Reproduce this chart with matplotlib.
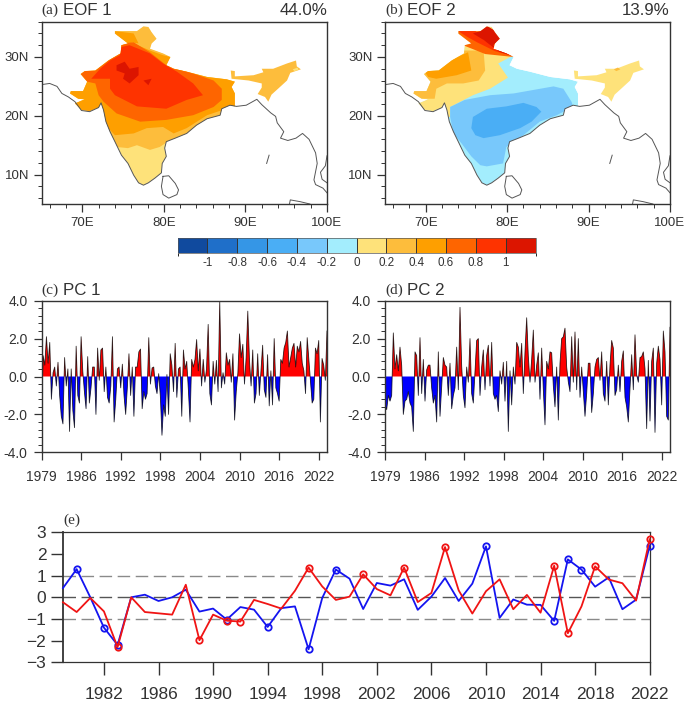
import numpy as np
import matplotlib
matplotlib.use("Agg")
import matplotlib.pyplot as plt
from matplotlib.colors import ListedColormap, BoundaryNorm
from matplotlib.colorbar import ColorbarBase
from matplotlib.patches import Polygon
from matplotlib.ticker import MultipleLocator

plt.rcParams["font.family"] = ["Liberation Sans", "DejaVu Sans"]

W, H = 685, 703

# colour levels, blue to red
level_colors = ["#104a9e", "#1f6fc9", "#3596e6", "#4aaef5", "#78c8fb", "#a3edfd",
                "#fee27a", "#fdbd3c", "#fe9f00", "#fe6500", "#fe3300", "#dc1500"]
level_ticks = [-1, -0.8, -0.6, -0.4, -0.2, 0, 0.2, 0.4, 0.6, 0.8, 1]

# outlines, (lon, lat)
india = [(74.0,34.4),(75.2,34.4),(76.7,34.4),(77.5,35.2),(78.1,35.1),(78.5,34.2),(79.1,33.1),(78.5,32.3),
         (78.3,31.4),(79.9,30.6),(80.8,30.0),(80.3,28.6),(81.2,28.0),(82.8,27.5),(85.3,26.6),(87.7,26.2),
         (88.7,25.8),(88.3,24.9),(88.7,23.8),(88.7,21.6),(88.1,21.8),(87.1,21.2),(86.9,20.1),(85.3,19.5),
         (84.0,18.4),(82.8,17.0),(81.4,16.2),(80.3,15.6),(80.1,14.5),(80.3,13.1),(79.8,11.9),(79.7,10.3),
         (78.9,9.4),(78.1,8.6),(77.5,8.2),(76.9,8.6),(76.3,9.9),(75.6,11.9),(74.8,13.3),(74.0,15.6),
         (73.4,17.3),(72.9,19.0),(72.6,21.0),(72.3,22.2),(72.0,21.4),(70.9,20.8),(69.9,21.0),(69.1,22.1),
         (70.3,22.8),(69.5,22.9),(68.5,23.8),(68.6,24.2),(70.1,24.2),(70.6,25.8),(69.8,27.1),(70.3,27.6),
         (71.6,27.7),(73.2,29.4),(74.7,30.6),(74.8,32.0),(75.6,32.3),(74.0,34.0)]
northeast = [(88.2,27.7),(88.7,27.6),(88.7,26.7),(91.0,26.9),(92.2,27.4),(92.0,28.0),(93.4,28.0),(95.1,28.9),
             (96.2,29.4),(96.3,28.4),(96.8,27.9),(95.5,27.3),(95.1,26.0),(94.0,24.6),(93.2,23.6),(92.8,22.4),
             (92.4,23.2),(91.5,23.7),(92.0,24.8),(92.0,25.5),(90.4,26.0),(88.3,26.3)]
coast_main = [(65.0,25.3),(66.0,25.5),(66.9,25.0),(67.5,23.8),(68.3,23.2),(69.1,22.4),(69.9,20.9),(70.9,20.7),
              (72.0,21.4),(72.3,22.2),(72.6,21.0),(72.9,19.0),(73.4,17.3),(74.0,15.6),(74.8,13.3),(75.6,11.9),
              (76.3,9.9),(76.9,8.6),(77.5,8.2),(78.1,8.6),(78.9,9.4),(79.7,10.3),(79.8,11.9),(80.3,13.1),
              (80.1,14.5),(80.3,15.6),(81.4,16.2),(82.8,17.0),(84.0,18.4),(85.3,19.5),(86.9,20.1),(87.1,21.2),
              (88.1,21.8),(88.9,21.6),(90.1,21.8),(91.4,22.8),(92.0,21.9),(93.1,20.5),(93.7,19.9),(93.9,18.8),
              (94.7,17.3),(94.3,16.2),(95.2,15.8),(96.2,16.2),(97.0,17.0),(97.8,16.0),(98.6,13.7),(98.8,11.9),
              (98.4,9.1),(98.6,8.3),(99.5,7.7),(100.0,6.9)]
coast_east = [(100.0,13.2),(99.8,11.5),(99.2,10.4),(99.4,9.2),(100.0,8.6)]
sri_lanka = [(79.9,9.7),(80.6,9.8),(81.4,8.5),(81.8,7.4),(81.6,6.6),(80.6,6.0),(79.9,6.6),(79.7,8.0),(79.9,9.7)]
sumatra = [(95.4,5.0),(95.5,5.7),(96.7,5.4),(97.9,5.0)]
andaman = [(92.9,13.3),(92.6,11.9)]

# EOF 1 bands, drawn in order over the base colour
eof1_band_02 = [(74.2,14.7),(75.6,14.5),(76.7,15.0),(78.3,14.2),(79.5,14.7),(80.8,15.9),(90,16),(90,36),(65,36),(65,15)]
eof1_band_04 = [(73.4,17.6),(74.0,16.7),(76.3,17.0),(77.9,17.9),(79.9,18.1),(81.2,17.0),(82.8,17.9),(85.3,20.1),
                (88.5,21.6),(90,21.6),(90,30.3),(80.8,30),(79.9,30.3),(78.3,31.1),(76.3,32.3),(74,34),(65,34),(65,17.6)]
eof1_band_04b = [(74,34.4),(76.3,34),(76.9,32.3),(75.5,32.6),(74,34)]
eof1_band_06 = [(69.8,27.1),(70.6,25.8),(71.6,25.5),(72,23.5),(72.6,22.4),(74.2,20.4),(77.1,19.0),(80.3,19.3),
                (83.6,20.1),(86.1,21.5),(87.1,22.7),(87.1,24.6),(86.1,26.0),(83.6,27.2),(80.3,28.6),(78.3,30.8),
                (76.3,32.5),(74.8,32.3),(73.2,29.4),(71.6,27.7),(70.3,27.6)]
eof1_band_08 = [(71.1,26.3),(73.4,26.3),(73.4,24.6),(74,23.5),(76.7,21.6),(80.3,21.2),(82.8,22.7),(84.8,23.5),
                (83.6,25.5),(81.6,27.5),(79.9,28.9),(78.3,30.6),(75.8,32),(74.8,31.7),(74.6,30.3),(73.4,29.4),(72.2,28)]
eof1_band_10 = [(74.2,28.6),(75.2,29.2),(75.8,28),(76.9,28.3),(76.9,26.9),(75.8,25.5),(75,26.3),(75.2,27.2),(74.2,27.7)]
eof1_band_10b = [(77.5,26),(78.5,26.3),(78.1,25.2)]
eof1_ne_patch = [(95.8,27.9),(96.4,28.2),(96.5,27.8),(96.0,27.6)]

# EOF 2 bands
eof2_band_02 = [(73,19.8),(73,21.5),(75.8,23.5),(77.9,24.6),(80.1,26.5),(78.9,28.9),(80.8,30.3),(82,36),(65,36),(65,19.8),(71,19.8)]
eof2_band_m04 = [(73,21.5),(74.8,22.7),(77.9,23.5),(80.8,23.8),(85.7,25),(86.9,24.6),(87.9,22.4),(88.1,21.6),(86.1,20.1),
                 (84,19),(82,16.7),(79.9,14.7),(79.5,11.9),(77.5,11.4),(76.7,11.6),(75.6,13.1),(74.4,15.3),(73.4,17),(73,19.8)]
eof2_band_m06 = [(75.6,17.9),(75.8,19.8),(77.5,21.2),(79.9,21.6),(82,22.2),(83.6,21.5),(84.2,20.7),(83,19),(81.6,17.9),
                 (79.1,16.7),(77.1,16.2),(76.1,16.7)]
eof2_band_04 = [(74.7,31.1),(77.1,31.1),(77.3,27.7),(76.5,26),(74.6,25.5),(72.6,25.5),(71.3,24.6),(71.1,22.9),(68.4,22.9),
                (68.4,24.4),(69.9,27.6),(73.4,29.7)]
eof2_band_06 = [(69.9,27.5),(73.4,29.7),(75.2,30.8),(75.6,27.7),(73.8,26.9),(71.3,26.3),(70.3,26.6)]
eof2_band_08 = [(74,34.4),(77,34.4),(80.8,30),(77.3,30.5),(74.6,32),(74,33.6)]
eof2_band_10 = [(74,34.4),(76,34.6),(77.1,32.9),(78.3,31.9),(80.8,30.1),(78.5,31),(76.3,32.5),(75,33.5)]
eof2_band_12 = [(76.7,34.4),(77.5,35.3),(78.6,34.4),(79.2,33.1),(78.3,32),(80.8,30.1),(79,30.9),(77.1,32.9),(75.8,34)]
eof2_ne_patch = [(93.1,27.9),(93.6,28.2),(93.9,27.9),(93.4,27.6)]

# PC time series
pc1 = [-1.8,1.1,0.6,2.1,0.7,1.8,-1.2,0.2,0.5,-0.5,
       0.75,-1.0,-2.1,-2.5,1.0,-0.5,0.4,-2.9,0.4,-1.8,
       -2.7,1.6,-1.0,-1.4,2.1,0.3,-0.8,-1.7,1.05,-1.4,
       -0.6,0.5,0.5,-2.0,1.5,-0.2,1.4,1.5,-0.8,0.5,
       -1.1,-1.4,-0.5,2.1,-2.4,-1.2,0.4,0.5,-0.6,0.65,
       -1.0,-2.0,-0.6,1.2,-1.0,0.5,-2.1,0.5,0.5,1.3,
       1.45,-1.7,-0.8,-1.2,-0.9,2.05,-0.4,0.45,0.5,-0.5,
       -0.9,0.15,-1.0,-3.1,-1.5,-2.1,0.1,-2.0,1.2,0.6,
       -0.8,1.75,-1.1,0.4,0.5,-2.1,1.4,0.4,0.8,-0.7,
       -2.4,0.9,0.5,0.9,1.95,0.3,1.45,-0.5,0.9,-0.3,
       0.4,2.75,-0.9,-1.5,0.8,-0.4,0.85,-0.8,4.0,-0.6,
       0.2,-0.4,1.25,0.6,0.9,-0.3,1.2,-2.3,-0.8,0.2,
       2.25,1.0,1.7,-0.4,1.0,3.45,0.9,-0.5,1.4,-1.4,
       -0.9,1.2,-1.0,0.3,1.65,-0.7,-1.1,1.15,-1.55,0.3,
       -1.5,2.0,-0.6,-0.9,-1.3,0.9,0.7,1.5,1.8,2.4,
       0.5,1.0,1.5,1.75,0.5,1.6,1.3,1.85,0.7,0.3,
       -0.9,2.05,0.9,-0.3,-1.4,-1.2,1.5,1.2,1.9,-2.4,0.95,0.6,-0.2,2.4]
pc2 = [-1.5,-1.75,-1.0,-1.3,-1.0,2.3,0.4,1.15,0.3,1.55,
       0.6,-2.0,-1.3,-1.2,-0.8,-1.4,-1.6,-2.9,1.3,1.1,
       -1.0,2.05,-0.9,0.9,-1.3,0.35,0.6,0.6,-0.6,-1.4,
       -1.0,-2.4,1.3,-2.1,-0.5,1.0,0.6,0.5,-1.0,0.7,
       -1.7,-1.0,-0.6,1.55,-0.7,3.65,0.55,-1.0,-1.65,0.5,
       -0.3,2.0,-0.9,-1.4,0.3,1.9,2.0,-1.0,0.5,1.4,
       -0.7,1.1,1.65,-0.5,1.8,-0.9,-1.2,-1.0,-1.85,0.3,
       -0.4,0.75,-1.3,0.8,-2.9,0.3,-1.5,0.5,-0.4,1.8,
       1.55,0.5,1.75,-0.9,1.3,3.1,1.05,-0.3,0.9,2.45,
       -0.3,0.6,1.25,-1.2,1.5,-0.7,-2.55,0.8,0.4,1.3,
       1.25,-0.5,-1.6,0.5,-2.3,0.7,2.0,2.1,2.55,0.5,
       -0.3,-0.8,2.1,-0.3,2.35,-0.7,2.0,-1.1,0.5,-0.8,
       -2.1,-0.9,0.7,0.7,-1.9,-0.9,0.5,0.9,1.0,-0.2,
       1.3,-0.9,-1.3,0.8,-1.5,0.6,1.9,1.5,-1.0,-0.7,
       0.6,-0.8,0.8,1.35,-1.1,-1.6,-2.4,-0.6,1.15,-0.7,
       2.2,0.1,-0.3,1.0,1.05,1.3,0.4,-2.75,0.85,-2.35,
       0.8,1.5,-2.95,0.7,1.6,0.9,-1.5,2.4,1.3,-2.1,-2.3,2.6]
pc_ticks = [0, 6, 12, 18, 24, 30, 36, 42]
pc_tick_labels = ["1979", "1986", "1992", "1998", "2004", "2010", "2016", "2022"]

# panel (e)
years = list(range(1979, 2023))
blue_series = [0.43,1.3,0.0,-1.4,-2.2,0.0,0.12,-0.17,0.0,0.35,-0.66,-0.52,-1.03,-0.45,-0.57,-1.37,-0.5,-0.42,-2.4,-0.03,
               1.28,0.86,-0.54,0.66,0.54,0.83,-0.58,0.03,0.89,-0.17,0.63,2.35,-0.95,-0.1,-0.34,-0.35,-1.09,1.75,1.28,
               0.49,0.92,-0.55,-0.11,2.38]
red_series = [-0.23,-0.68,-0.03,-0.65,-2.3,0.0,-0.68,-0.74,-0.8,0.58,-1.98,-0.8,-1.08,-1.12,-0.12,-0.31,-0.52,0.3,1.37,
              0.5,-0.12,0.03,1.06,0.38,0.09,1.37,-0.22,0.2,2.32,0.32,-0.75,0.28,0.83,-0.55,0.11,-0.71,1.46,-1.66,-0.42,
              1.43,0.82,0.65,-0.15,2.68]
e_ticks = [1982, 1986, 1990, 1994, 1998, 2002, 2006, 2010, 2014, 2018, 2022]

INK = "#333333"


def px_axes(fig, left, top, right, bottom):
    return fig.add_axes([left / W, 1 - bottom / H, (right - left) / W, (bottom - top) / H])


def panel_title(ax, letter, name, right=None):
    ax.text(0.0, 1.025, letter, transform=ax.transAxes, family="Liberation Serif", fontsize=11, color=INK, va="bottom")
    ax.text(0.077, 1.02, name, transform=ax.transAxes, fontsize=12.2, color=INK, va="bottom")
    if right:
        ax.text(1.0, 1.02, right, transform=ax.transAxes, fontsize=12.2, color=INK, va="bottom", ha="right")


def draw_map(ax, layers, ne_color, ne_patch, ne_patch_color):
    clip = Polygon(india, closed=True, transform=ax.transData)
    for poly, color in layers:
        p = Polygon(poly, closed=True, facecolor=color, edgecolor="none")
        ax.add_patch(p)
        p.set_clip_path(clip)
    ax.add_patch(Polygon(northeast, closed=True, facecolor=ne_color, edgecolor="none"))
    ax.add_patch(Polygon(ne_patch, closed=True, facecolor=ne_patch_color, edgecolor="none"))
    for line in [coast_main, coast_east, sri_lanka, sumatra, andaman]:
        pts = np.array(line)
        ax.plot(pts[:, 0], pts[:, 1], color="#555555", lw=0.7)
    ax.set_xlim(65, 100)
    ax.set_ylim(5, 36)
    ax.set_xticks([70, 80, 90, 100])
    ax.set_xticklabels(["70E", "80E", "90E", "100E"])
    ax.set_yticks([10, 20, 30])
    ax.set_yticklabels(["10N", "20N", "30N"])
    ax.xaxis.set_minor_locator(MultipleLocator(2))
    ax.yaxis.set_minor_locator(MultipleLocator(2))
    ax.tick_params(which="major", length=6, width=0.9, color=INK, labelcolor=INK, labelsize=9.5, pad=3)
    ax.tick_params(which="minor", length=3, width=0.7, color=INK)
    for s in ax.spines.values():
        s.set_color(INK)
        s.set_linewidth(1.0)


def draw_pc(ax, values):
    v = np.array(values)
    t = np.linspace(0, 43.25, len(v))
    ax.fill_between(t, v, 0, where=v >= 0, interpolate=True, color="#ff0000", lw=0)
    ax.fill_between(t, v, 0, where=v <= 0, interpolate=True, color="#0000ff", lw=0)
    ax.plot(t, v, color="black", lw=0.6, alpha=0.8)
    ax.set_xlim(0, 43.25)
    ax.set_ylim(-4, 4)
    ax.set_xticks(pc_ticks)
    ax.set_xticklabels(pc_tick_labels)
    ax.set_yticks([-4, -2, 0, 2, 4])
    ax.set_yticklabels(["-4.0", "-2.0", "0.0", "2.0", "4.0"])
    ax.yaxis.set_minor_locator(MultipleLocator(0.4))
    ax.tick_params(which="major", length=6, width=0.9, color=INK, labelcolor=INK, labelsize=10, pad=4)
    ax.tick_params(axis="x", pad=7)
    ax.tick_params(which="minor", length=3, width=0.7, color=INK)
    for s in ax.spines.values():
        s.set_color(INK)
        s.set_linewidth(1.0)


fig = plt.figure(figsize=(W / 100, H / 100), dpi=100)

# maps
ax_a = px_axes(fig, 41.5, 21.7, 327, 204)
draw_map(ax_a, [(india, level_colors[6]), (eof1_band_02, level_colors[7]), (eof1_band_04, level_colors[8]),
                (eof1_band_04b, level_colors[8]), (eof1_band_06, level_colors[9]), (eof1_band_08, level_colors[10]),
                (eof1_band_10, level_colors[11]), (eof1_band_10b, level_colors[11])],
         level_colors[7], eof1_ne_patch, level_colors[6])
panel_title(ax_a, "(a)", "EOF 1", "44.0%")

ax_b = px_axes(fig, 385, 21.7, 670, 204)
draw_map(ax_b, [(india, level_colors[5]), (eof2_band_02, level_colors[6]), (eof2_band_m04, level_colors[4]),
                (eof2_band_m06, level_colors[3]), (eof2_band_04, level_colors[7]), (eof2_band_06, level_colors[8]),
                (eof2_band_08, level_colors[9]), (eof2_band_10, level_colors[10]), (eof2_band_12, level_colors[11])],
         level_colors[6], eof2_ne_patch, level_colors[7])
panel_title(ax_b, "(b)", "EOF 2", "13.9%")

# colour bar
cax = px_axes(fig, 177.5, 238, 535.5, 252.5)
bounds = [-1.2] + level_ticks + [1.2]
cb = ColorbarBase(cax, cmap=ListedColormap(level_colors), norm=BoundaryNorm(bounds, 12),
                  orientation="horizontal", boundaries=bounds, spacing="uniform", drawedges=True)
cb.set_ticks(level_ticks)
cb.set_ticklabels(["-1", "-0.8", "-0.6", "-0.4", "-0.2", "0", "0.2", "0.4", "0.6", "0.8", "1"])
cb.ax.tick_params(length=0, labelsize=8.4, labelcolor=INK, pad=3)
cb.dividers.set_color("#333333")
cb.dividers.set_linewidth(0.7)
cb.outline.set_edgecolor("#555555")
cb.outline.set_linewidth(0.5)

# PC panels
ax_c = px_axes(fig, 41.5, 300.7, 327, 452.3)
draw_pc(ax_c, pc1)
panel_title(ax_c, "(c)", "PC 1")

ax_d = px_axes(fig, 385, 300.7, 670, 452.3)
draw_pc(ax_d, pc2)
panel_title(ax_d, "(d)", "PC 2")

# panel e
ax_e = px_axes(fig, 63, 532.3, 649.7, 662.3)
yr = np.array(years)
blue = np.array(blue_series)
red = np.array(red_series)
for level, col in [(-1, "#8a8a8a"), (0, "#555555"), (1, "#8a8a8a")]:
    ax_e.axhline(level, color=col, lw=1.0, dashes=(9, 4), zorder=1)
ax_e.plot(yr, blue, color="#1414f0", lw=1.3, zorder=3, clip_on=False)
ax_e.plot(yr, red, color="#f01414", lw=1.3, zorder=4, clip_on=False)
mask = np.abs(blue) >= 1
ax_e.plot(yr[mask], blue[mask], "o", mfc="none", mec="#1414f0", mew=1.3, ms=4.6, zorder=3, clip_on=False)
mask = np.abs(red) >= 1
ax_e.plot(yr[mask], red[mask], "o", mfc="none", mec="#f01414", mew=1.3, ms=4.6, zorder=4, clip_on=False)
ax_e.set_xlim(1979, 2022)
ax_e.set_ylim(-3, 3)
ax_e.set_xticks(e_ticks)
ax_e.set_yticks([-3, -2, -1, 0, 1, 2, 3])
ax_e.tick_params(axis="x", length=9, width=1.0, color=INK, labelcolor=INK, labelsize=12.5, pad=9)
ax_e.tick_params(axis="y", length=9, width=1.0, color=INK, labelcolor=INK, labelsize=12.5, pad=3)
for s in ax_e.spines.values():
    s.set_color(INK)
    s.set_linewidth(0.9)
ax_e.spines["left"].set_linewidth(1.3)
ax_e.text(0.0, 1.04, "(e)", transform=ax_e.transAxes, family="Liberation Serif", fontsize=11, color=INK, va="bottom")

fig.savefig("out.png", dpi=100)
